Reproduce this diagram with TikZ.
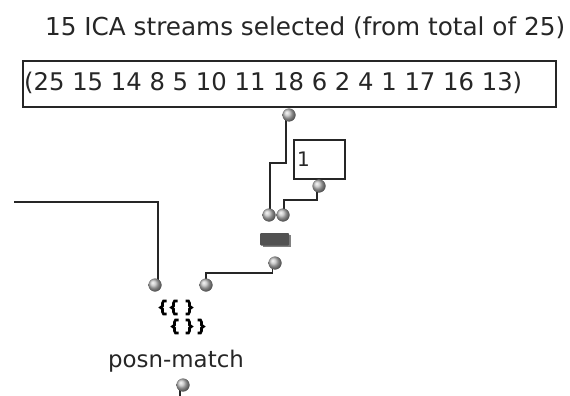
\documentclass[tikz,border=0pt]{standalone}
\usepackage{fontspec}
\setmainfont{DejaVu Sans}
\tikzset{
  ball/.style={circle,inner sep=0pt,minimum size=13pt,draw=none,ball color=black!25},
  wire/.style={draw=black!85,line width=1.8pt},
  valbox/.style={draw=black!85,line width=1.8pt,fill=white,inner sep=0pt,anchor=north west},
  lbl/.style={inner sep=0pt,text=black!85},
  brk/.style={draw=black,line width=2.6pt}
}
\newcommand{\leftb}[2]{\draw[brk] (#1+3.5,#2) -- (#1+0.5,#2) -- (#1-0.5,#2+2) -- (#1-0.5,#2+5) -- (#1-2.5,#2+6.5) -- (#1-0.5,#2+8) -- (#1-0.5,#2+11) -- (#1+0.5,#2+13) -- (#1+3.5,#2+13);}
\newcommand{\rightb}[2]{\draw[brk] (#1-3.5,#2) -- (#1-0.5,#2) -- (#1+0.5,#2+2) -- (#1+0.5,#2+5) -- (#1+2.5,#2+6.5) -- (#1+0.5,#2+8) -- (#1+0.5,#2+11) -- (#1-0.5,#2+13) -- (#1-3.5,#2+13);}
\begin{document}
\begin{tikzpicture}[x=1pt,y=-1pt]
\useasboundingbox (0,0) rectangle (570,396);
\node[lbl,anchor=west,font=\fontsize{24.7}{26}\selectfont] (title) at (45,28) {15 ICA streams selected (from total of 25)};
\node[valbox,minimum width=533pt,minimum height=46pt] (list) at (22,60) {};
\node[lbl,anchor=west,font=\fontsize{24.3}{26}\selectfont] (listtext) at (24,83) {(25 15 14 8 5 10 11 18 6 2 4 1 17 16 13)};
\node[valbox,minimum width=51pt,minimum height=39pt] (one) at (293,139) {};
\node[lbl,anchor=west,font=\fontsize{20}{22}\selectfont] (onetext) at (297,159) {1};
\node[ball] (b1) at (289,115) {};
\node[ball] (b2) at (319,186) {};
\node[ball] (b3) at (269,215) {};
\node[ball] (b4) at (283,215) {};
\node[ball] (b5) at (275,263) {};
\node[ball] (b6) at (155,285) {};
\node[ball] (b7) at (206,285) {};
\node[ball] (b8) at (183,385) {};
\coordinate (leftend) at (14,202);
\coordinate (botend) at (180,396);
\draw[wire] (leftend) -- (158,202) -- (158,280);
\draw[wire] (286,119) -- (286,163) -- (270,163) -- (270,210);
\draw[wire] (317,190) -- (317,200) -- (284,200) -- (284,210);
\draw[wire] (272.5,267) -- (272.5,273) -- (206,273) -- (206,280);
\draw[wire] (180,389) -- (botend);
\foreach \b in {b1,b2,b3,b4,b5,b6,b7,b8} \node[ball] at (\b) {};
\fill[black!50] (263,235) rectangle (291,247);
\fill[black!68,rounded corners=1pt] (260,233) rectangle (289,245.5);
\leftb{163}{301}\leftb{174}{301}\rightb{189}{301}
\leftb{175}{320}\rightb{189}{320}\rightb{201}{320}
\node[lbl,font=\fontsize{22.9}{24}\selectfont] (pm) at (176,361) {posn-match};
\end{tikzpicture}
\end{document}
